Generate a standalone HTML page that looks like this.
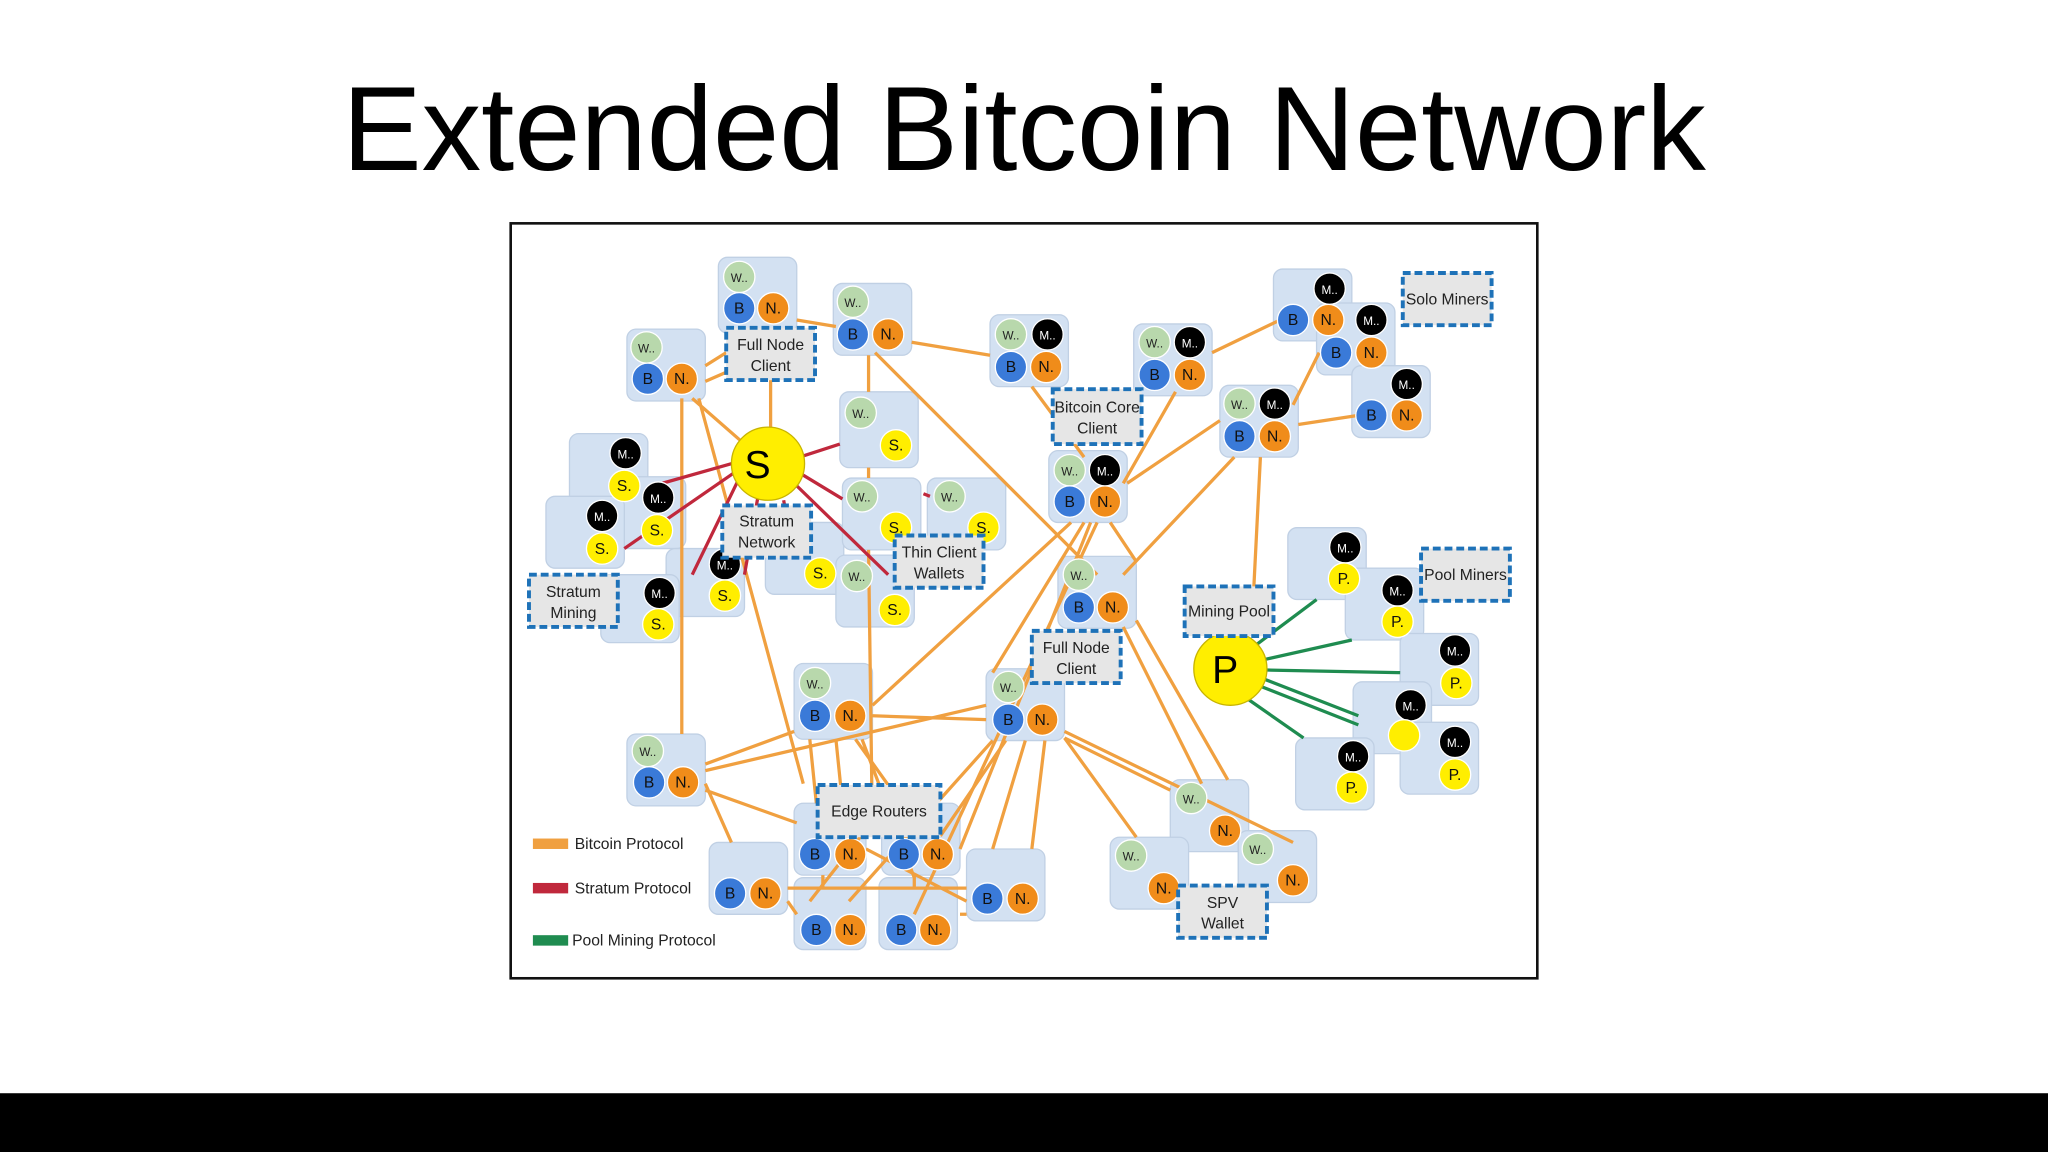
<!DOCTYPE html>
<html><head><meta charset="utf-8"><style>html,body{margin:0;padding:0;background:#fff}svg{display:block}</style></head>
<body>
<svg width="2048" height="1152" viewBox="0 0 1568 882" xmlns="http://www.w3.org/2000/svg" font-family="Liberation Sans, sans-serif">
<rect width="1568" height="882" fill="#fff"/>
<rect x="0" y="837" width="1568" height="45" fill="#000"/>
<text x="784" y="130" font-size="92" text-anchor="middle" textLength="1044" lengthAdjust="spacingAndGlyphs">Extended Bitcoin Network</text>
<rect x="391" y="171" width="786" height="578" fill="#fff" stroke="#111" stroke-width="2"/>

<!-- node boxes -->
<g fill="#d3e1f2" stroke="#c0d0e4" stroke-width="1">
<rect x="550" y="197" width="60" height="58" rx="7"/><rect x="638" y="217" width="60" height="55" rx="7"/>
<rect x="480" y="252" width="60" height="55" rx="7"/><rect x="758" y="241" width="60" height="55" rx="7"/>
<rect x="868" y="248" width="60" height="55" rx="7"/><rect x="975" y="206" width="60" height="55" rx="7"/>
<rect x="1008" y="232" width="60" height="55" rx="7"/><rect x="1035" y="280" width="60" height="55" rx="7"/>
<rect x="934" y="295" width="60" height="55" rx="7"/><rect x="803" y="345" width="60" height="55" rx="7"/>
<rect x="643" y="300" width="60" height="58" rx="7"/><rect x="586" y="400" width="60" height="55" rx="7"/>
<rect x="645" y="366" width="60" height="55" rx="7"/><rect x="710" y="366" width="60" height="55" rx="7"/>
<rect x="640" y="425" width="60" height="55" rx="7"/>
<rect x="436" y="332" width="60" height="55" rx="7"/><rect x="470" y="365" width="55" height="55" rx="7"/>
<rect x="418" y="380" width="60" height="55" rx="7"/><rect x="510" y="420" width="60" height="52" rx="7"/>
<rect x="460" y="440" width="60" height="52" rx="7"/>
<rect x="810" y="426" width="60" height="55" rx="7"/><rect x="608" y="508" width="60" height="58" rx="7"/>
<rect x="755" y="512" width="60" height="55" rx="7"/><rect x="480" y="562" width="60" height="55" rx="7"/>
<rect x="543" y="645" width="60" height="55" rx="7"/><rect x="608" y="615" width="55" height="55" rx="7"/>
<rect x="675" y="615" width="60" height="55" rx="7"/><rect x="740" y="650" width="60" height="55" rx="7"/>
<rect x="608" y="672" width="55" height="55" rx="7"/><rect x="673" y="672" width="60" height="55" rx="7"/>
<rect x="896" y="597" width="60" height="55" rx="7"/><rect x="850" y="641" width="60" height="55" rx="7"/>
<rect x="948" y="636" width="60" height="55" rx="7"/>
<rect x="986" y="404" width="60" height="55" rx="7"/><rect x="1030" y="435" width="60" height="55" rx="7"/>
<rect x="1072" y="485" width="60" height="55" rx="7"/><rect x="1036" y="522" width="60" height="55" rx="7"/>
<rect x="992" y="565" width="60" height="55" rx="7"/><rect x="1072" y="553" width="60" height="55" rx="7"/>
</g>

<!-- orange edges -->
<g stroke="#f0a040" stroke-width="2.5" fill="none">
<path d="M540 280L556 270M540 292L556 285M530 305L570 340M522 305L522 562M535 305L615 600M590 291L590 327M610 245L640 250"/>
<path d="M698 262L758 272M670 270L840 440M665 272L665 300M665 358L665 366M665 421L668 640M790 296L830 350"/>
<path d="M900 300L860 370M928 270L980 245M934 322L863 370M994 325L1040 318M990 310L1010 270M965 350L960 449M945 350L860 440"/>
<path d="M820 400L668 540M835 400L735 650M850 400L870 430M840 400L700 700M830 400L760 515"/>
<path d="M870 475L940 597M860 480L920 600M668 548L755 551M608 560L540 585M540 590L755 540M540 600L560 645M540 605L610 630"/>
<path d="M620 566L625 615M640 566L645 615M655 566L690 615M660 566L700 672M675 620L620 690"/>
<path d="M815 565L896 605M815 565L870 641M770 567L720 640M785 567L760 650M800 567L790 650M760 567L650 690M815 560L990 645"/>
<path d="M603 680L740 680M663 650L740 690M630 670L630 680M700 670L700 680M603 690L610 700M735 700L740 700"/>
</g>
<!-- red edges -->
<g stroke="#c0283c" stroke-width="2.5">
<path d="M560 355L500 372M562 362L478 420M565 368L530 440M612 350L643 340M612 362L645 382M608 370L680 440M580 382L570 440M600 383L603 400M707 378L712 380"/>
</g>
<!-- green edges -->
<g stroke="#1f8c50" stroke-width="2.5">
<path d="M960 495L1008 459M968 505L1035 490M970 513L1072 515M968 520L1040 548M964 525L1040 555M955 535L998 565"/>
</g>

<!-- servers -->
<circle cx="588" cy="355" r="28" fill="#ffee00" stroke="#c8b400"/>
<text x="580" y="366" font-size="30" text-anchor="middle">S</text>
<circle cx="942" cy="512" r="28" fill="#ffee00" stroke="#c8b400"/>
<text x="938" y="523" font-size="30" text-anchor="middle">P</text>

<!-- circles -->
<g stroke="#fff" stroke-width="1">
<g fill="#b8d8ac">
<circle cx="566" cy="212" r="12"/><circle cx="653" cy="231" r="12"/><circle cx="495" cy="266" r="12"/><circle cx="774" cy="256" r="12"/>
<circle cx="884" cy="262" r="12"/><circle cx="949" cy="309" r="12"/><circle cx="819" cy="360" r="12"/><circle cx="659" cy="316" r="12"/>
<circle cx="660" cy="380" r="12"/><circle cx="727" cy="380" r="12"/><circle cx="656" cy="441" r="12"/><circle cx="826" cy="440" r="12"/>
<circle cx="624" cy="523" r="12"/><circle cx="772" cy="526" r="12"/><circle cx="496" cy="575" r="12"/><circle cx="912" cy="611" r="12"/>
<circle cx="866" cy="655" r="12"/><circle cx="963" cy="650" r="12"/>
</g>
<g fill="#3a7ad8">
<circle cx="566" cy="236" r="12"/><circle cx="653" cy="256" r="12"/><circle cx="496" cy="290" r="12"/><circle cx="774" cy="281" r="12"/>
<circle cx="884" cy="287" r="12"/><circle cx="990" cy="245" r="12"/><circle cx="1023" cy="270" r="12"/><circle cx="1050" cy="318" r="12"/>
<circle cx="949" cy="334" r="12"/><circle cx="819" cy="384" r="12"/><circle cx="826" cy="465" r="12"/><circle cx="624" cy="548" r="12"/>
<circle cx="772" cy="551" r="12"/><circle cx="497" cy="599" r="12"/><circle cx="559" cy="684" r="12"/><circle cx="624" cy="654" r="12"/>
<circle cx="692" cy="654" r="12"/><circle cx="756" cy="688" r="12"/><circle cx="625" cy="712" r="12"/><circle cx="690" cy="712" r="12"/>
</g>
<g fill="#f08c1a">
<circle cx="592" cy="236" r="12"/><circle cx="680" cy="256" r="12"/><circle cx="522" cy="290" r="12"/><circle cx="801" cy="281" r="12"/>
<circle cx="911" cy="287" r="12"/><circle cx="1017" cy="245" r="12"/><circle cx="1050" cy="270" r="12"/><circle cx="1077" cy="318" r="12"/>
<circle cx="976" cy="334" r="12"/><circle cx="846" cy="384" r="12"/><circle cx="852" cy="465" r="12"/><circle cx="651" cy="548" r="12"/>
<circle cx="798" cy="551" r="12"/><circle cx="523" cy="599" r="12"/><circle cx="586" cy="684" r="12"/><circle cx="651" cy="654" r="12"/>
<circle cx="718" cy="654" r="12"/><circle cx="783" cy="688" r="12"/><circle cx="651" cy="712" r="12"/><circle cx="716" cy="712" r="12"/>
<circle cx="938" cy="636" r="12"/><circle cx="891" cy="680" r="12"/><circle cx="990" cy="674" r="12"/>
</g>
<g fill="#000">
<circle cx="802" cy="256" r="12"/><circle cx="911" cy="262" r="12"/><circle cx="1018" cy="221" r="12"/><circle cx="1050" cy="245" r="12"/>
<circle cx="1077" cy="294" r="12"/><circle cx="976" cy="309" r="12"/><circle cx="846" cy="360" r="12"/>
<circle cx="479" cy="347" r="12"/><circle cx="504" cy="381" r="12"/><circle cx="461" cy="395" r="12"/><circle cx="505" cy="454" r="12"/><circle cx="555" cy="432" r="12"/>
<circle cx="1030" cy="419" r="12"/><circle cx="1070" cy="452" r="12"/><circle cx="1114" cy="498" r="12"/><circle cx="1080" cy="540" r="12"/>
<circle cx="1036" cy="579" r="12"/><circle cx="1114" cy="568" r="12"/>
</g>
<g fill="#ffee00">
<circle cx="686" cy="341" r="12"/><circle cx="686" cy="404" r="12"/><circle cx="753" cy="404" r="12"/><circle cx="685" cy="467" r="12"/><circle cx="628" cy="439" r="12"/>
<circle cx="478" cy="372" r="12"/><circle cx="503" cy="406" r="12"/><circle cx="461" cy="420" r="12"/><circle cx="504" cy="478" r="12"/><circle cx="555" cy="456" r="12"/>
<circle cx="1029" cy="443" r="12"/><circle cx="1070" cy="476" r="12"/><circle cx="1115" cy="523" r="12"/><circle cx="1075" cy="563" r="12"/>
<circle cx="1035" cy="603" r="12"/><circle cx="1114" cy="593" r="12"/>
</g>
</g>

<!-- circle letters -->
<g font-size="12" text-anchor="middle" fill="#222">
<text x="566" y="216" font-size="9">W..</text><text x="653" y="235" font-size="9">W..</text><text x="495" y="270" font-size="9">W..</text><text x="774" y="260" font-size="9">W..</text>
<text x="884" y="266" font-size="9">W..</text><text x="949" y="313" font-size="9">W..</text><text x="819" y="364" font-size="9">W..</text><text x="659" y="320" font-size="9">W..</text>
<text x="660" y="384" font-size="9">W..</text><text x="727" y="384" font-size="9">W..</text><text x="656" y="445" font-size="9">W..</text><text x="826" y="444" font-size="9">W..</text>
<text x="624" y="527" font-size="9">W..</text><text x="772" y="530" font-size="9">W..</text><text x="496" y="579" font-size="9">W..</text><text x="912" y="615" font-size="9">W..</text>
<text x="866" y="659" font-size="9">W..</text><text x="963" y="654" font-size="9">W..</text>
<g fill="#111">
<text x="566" y="240">B</text><text x="653" y="260">B</text><text x="496" y="294">B</text><text x="774" y="285">B</text><text x="884" y="291">B</text>
<text x="990" y="249">B</text><text x="1023" y="274">B</text><text x="1050" y="322">B</text><text x="949" y="338">B</text><text x="819" y="388">B</text>
<text x="826" y="469">B</text><text x="624" y="552">B</text><text x="772" y="555">B</text><text x="497" y="603">B</text><text x="559" y="688">B</text>
<text x="624" y="658">B</text><text x="692" y="658">B</text><text x="756" y="692">B</text><text x="625" y="716">B</text><text x="690" y="716">B</text>
<text x="592" y="240">N.</text><text x="680" y="260">N.</text><text x="522" y="294">N.</text><text x="801" y="285">N.</text><text x="911" y="291">N.</text>
<text x="1017" y="249">N.</text><text x="1050" y="274">N.</text><text x="1077" y="322">N.</text><text x="976" y="338">N.</text><text x="846" y="388">N.</text>
<text x="852" y="469">N.</text><text x="651" y="552">N.</text><text x="798" y="555">N.</text><text x="523" y="603">N.</text><text x="586" y="688">N.</text>
<text x="651" y="658">N.</text><text x="718" y="658">N.</text><text x="783" y="692">N.</text><text x="651" y="716">N.</text><text x="716" y="716">N.</text>
<text x="938" y="640">N.</text><text x="891" y="684">N.</text><text x="990" y="678">N.</text>
<text x="686" y="345">S.</text><text x="686" y="408">S.</text><text x="753" y="408">S.</text><text x="685" y="471">S.</text><text x="628" y="443">S.</text>
<text x="478" y="376">S.</text><text x="503" y="410">S.</text><text x="461" y="424">S.</text><text x="504" y="482">S.</text><text x="555" y="460">S.</text>
<text x="1029" y="447">P.</text><text x="1070" y="480">P.</text><text x="1115" y="527">P.</text><text x="1035" y="607">P.</text><text x="1114" y="597">P.</text>
</g>
<g fill="#fff" font-size="9">
<text x="802" y="260">M..</text><text x="911" y="266">M..</text><text x="1018" y="225">M..</text><text x="1050" y="249">M..</text><text x="1077" y="298">M..</text>
<text x="976" y="313">M..</text><text x="846" y="364">M..</text><text x="479" y="351">M..</text><text x="504" y="385">M..</text><text x="461" y="399">M..</text>
<text x="505" y="458">M..</text><text x="555" y="436">M..</text><text x="1030" y="423">M..</text><text x="1070" y="456">M..</text><text x="1114" y="502">M..</text>
<text x="1080" y="544">M..</text><text x="1036" y="583">M..</text><text x="1114" y="572">M..</text>
</g>
</g>

<!-- label boxes -->
<g fill="#e6e6e6" stroke="#1e72b8" stroke-width="3" stroke-dasharray="6 3">
<rect x="556" y="251" width="68" height="40"/><rect x="553" y="387" width="68" height="40"/>
<rect x="685" y="410" width="68" height="40"/><rect x="405" y="440" width="68" height="40"/>
<rect x="806" y="298" width="68" height="42"/><rect x="790" y="483" width="68" height="40"/>
<rect x="907" y="449" width="68" height="38"/><rect x="1074" y="209" width="68" height="40"/>
<rect x="1088" y="420" width="68" height="40"/><rect x="626" y="601" width="94" height="40"/>
<rect x="902" y="678" width="68" height="40"/>
</g>
<g font-size="12" text-anchor="middle" fill="#222">
<text x="590" y="268">Full Node</text><text x="590" y="284">Client</text>
<text x="587" y="403">Stratum</text><text x="587" y="419">Network</text>
<text x="719" y="427">Thin Client</text><text x="719" y="443">Wallets</text>
<text x="439" y="457">Stratum</text><text x="439" y="473">Mining</text>
<text x="840" y="316">Bitcoin Core</text><text x="840" y="332">Client</text>
<text x="824" y="500">Full Node</text><text x="824" y="516">Client</text>
<text x="941" y="472">Mining Pool</text>
<text x="1108" y="233">Solo Miners</text>
<text x="1122" y="444">Pool Miners</text>
<text x="673" y="625">Edge Routers</text>
<text x="936" y="695">SPV</text><text x="936" y="711">Wallet</text>
</g>

<!-- legend -->
<rect x="408" y="642" width="27" height="8" fill="#f0a040"/>
<rect x="408" y="676" width="27" height="8" fill="#c0283c"/>
<rect x="408" y="716" width="27" height="8" fill="#1f8c50"/>
<g font-size="12" fill="#222">
<text x="440" y="650">Bitcoin Protocol</text>
<text x="440" y="684">Stratum Protocol</text>
<text x="438" y="724">Pool Mining Protocol</text>
</g>
</svg>
</body></html>
